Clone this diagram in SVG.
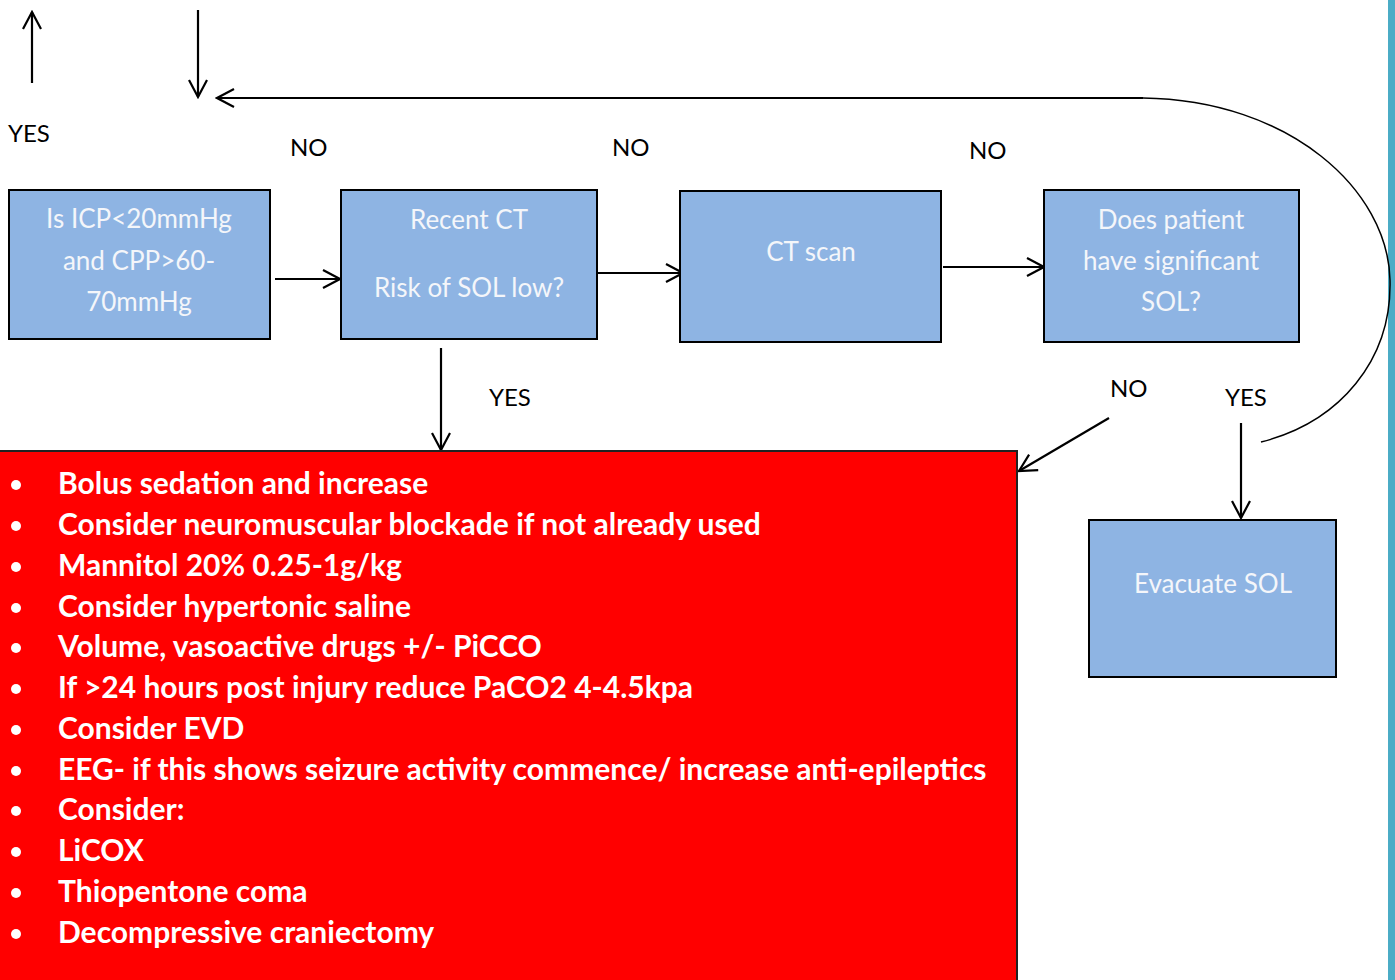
<svg xmlns="http://www.w3.org/2000/svg" width="1395" height="980" viewBox="0 0 1395 980">
<defs>
<style>
.box{fill:#8EB4E3;stroke:#000;stroke-width:2}
.bt{font-family:Lato,"Open Sans","Liberation Sans",sans-serif;font-size:26px;fill:#f4f6fa;text-anchor:middle}
.lbl{font-family:Lato,"Open Sans","Liberation Sans",sans-serif;font-size:24px;fill:#000}
.ln{fill:none;stroke:#000;stroke-width:2.2}
.thin{fill:none;stroke:#000;stroke-width:1.5}
.bl{font-family:Lato,"Open Sans","Liberation Sans",sans-serif;font-size:30px;font-weight:bold;fill:#fff}
</style>
<marker id="ah" viewBox="0 0 22 22" refX="20" refY="11" markerWidth="22" markerHeight="22" markerUnits="userSpaceOnUse" orient="auto">
<path d="M3,2 L20,11 L3,20" fill="none" stroke="#000" stroke-width="2.2"/>
</marker>
</defs>
<rect width="1395" height="980" fill="#fff"/>
<rect x="1388" y="0" width="7" height="980" fill="#4BACC6"/>

<g id="connectors">
<line class="ln" x1="32" y1="83" x2="32" y2="12" marker-end="url(#ah)"/>
<line class="ln" x1="198" y1="10" x2="198" y2="97" marker-end="url(#ah)"/>
<line class="ln" x1="1143" y1="98" x2="217" y2="98" marker-end="url(#ah)"/>
<path class="thin" d="M1143,98 C1290,100 1388,190 1390,280 C1392,360 1340,422 1261,442"/>
<line class="ln" x1="275" y1="279" x2="340" y2="279" marker-end="url(#ah)"/>
<line class="ln" x1="597" y1="273" x2="683" y2="273" marker-end="url(#ah)"/>
<line class="ln" x1="943" y1="267" x2="1044" y2="267" marker-end="url(#ah)"/>
<line class="ln" x1="441" y1="348" x2="441" y2="450" marker-end="url(#ah)"/>
<line class="ln" x1="1109" y1="418" x2="1019" y2="471" marker-end="url(#ah)"/>
<line class="ln" x1="1241" y1="423" x2="1241" y2="518" marker-end="url(#ah)"/>
</g>

<g id="labels">
<text class="lbl" x="8" y="142">YES</text>
<text class="lbl" x="290" y="156">NO</text>
<text class="lbl" x="612" y="156">NO</text>
<text class="lbl" x="969" y="159">NO</text>
<text class="lbl" x="489" y="406">YES</text>
<text class="lbl" x="1110" y="397">NO</text>
<text class="lbl" x="1225" y="406">YES</text>
</g>

<g id="node-icp">
<rect class="box" x="9" y="190" width="261" height="149"/>
<text class="bt" x="139" y="228">Is ICP&lt;20mmHg</text>
<text class="bt" x="139" y="270">and CPP&gt;60-</text>
<text class="bt" x="139" y="311">70mmHg</text>
</g>
<g id="node-recentct">
<rect class="box" x="341" y="190" width="256" height="149"/>
<text class="bt" x="469" y="229">Recent CT</text>
<text class="bt" x="469" y="297">Risk of SOL low?</text>
</g>
<g id="node-ctscan">
<rect class="box" x="680" y="191" width="261" height="151"/>
<text class="bt" x="811" y="261">CT scan</text>
</g>
<g id="node-sol">
<rect class="box" x="1044" y="190" width="255" height="152"/>
<text class="bt" x="1171" y="229">Does patient</text>
<text class="bt" x="1171" y="270">have significant</text>
<text class="bt" x="1171" y="311">SOL?</text>
</g>
<g id="node-evacuate">
<rect class="box" x="1089" y="520" width="247" height="157"/>
<text class="bt" x="1213" y="593">Evacuate SOL</text>
</g>

<g id="node-treatment">
<rect x="-5" y="451" width="1022" height="540" fill="#FF0000" stroke="#222" stroke-width="2"/>
<g fill="#fff">
<circle cx="16" cy="485" r="5"/>
<circle cx="16" cy="526" r="5"/>
<circle cx="16" cy="567" r="5"/>
<circle cx="16" cy="608" r="5"/>
<circle cx="16" cy="648" r="5"/>
<circle cx="16" cy="689" r="5"/>
<circle cx="16" cy="730" r="5"/>
<circle cx="16" cy="771" r="5"/>
<circle cx="16" cy="811" r="5"/>
<circle cx="16" cy="852" r="5"/>
<circle cx="16" cy="893" r="5"/>
<circle cx="16" cy="934" r="5"/>
</g>
<text class="bl" x="58" y="494">Bolus sedation and increase</text>
<text class="bl" x="58" y="535">Consider neuromuscular blockade if not already used</text>
<text class="bl" x="58" y="576">Mannitol 20% 0.25-1g/kg</text>
<text class="bl" x="58" y="617">Consider hypertonic saline</text>
<text class="bl" x="58" y="657">Volume, vasoactive drugs +/- PiCCO</text>
<text class="bl" x="58" y="698">If &gt;24 hours post injury reduce PaCO2 4-4.5kpa</text>
<text class="bl" x="58" y="739">Consider EVD</text>
<text class="bl" x="58" y="780">EEG- if this shows seizure activity commence/ increase anti-epileptics</text>
<text class="bl" x="58" y="820">Consider:</text>
<text class="bl" x="58" y="861">LiCOX</text>
<text class="bl" x="58" y="902">Thiopentone coma</text>
<text class="bl" x="58" y="943">Decompressive craniectomy</text>
</g>
</svg>
